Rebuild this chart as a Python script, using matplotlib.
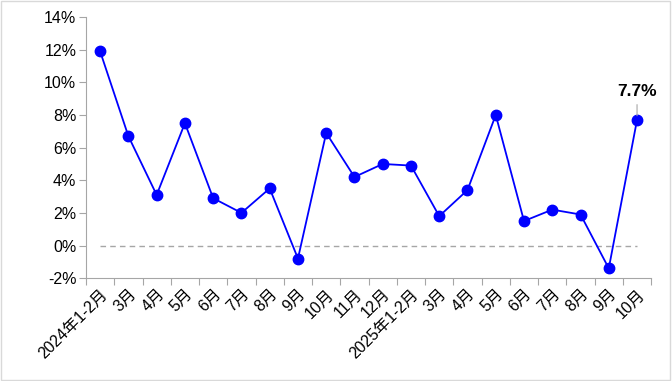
import numpy as np
import matplotlib.pyplot as plt

plt.rcParams['font.family'] = ['Liberation Sans', 'Noto Sans CJK SC', 'DejaVu Sans']

months = ['2024年1-2月', '3月', '4月', '5月', '6月', '7月', '8月', '9月', '10月', '11月', '12月',
          '2025年1-2月', '3月', '4月', '5月', '6月', '7月', '8月', '9月', '10月']
growth = [11.9, 6.7, 3.1, 7.5, 2.9, 2.0, 3.5, -0.8, 6.9, 4.2, 5.0,
          4.9, 1.8, 3.4, 8.0, 1.5, 2.2, 1.9, -1.4, 7.7]
zero_line = [0] * len(months)

fig = plt.figure(figsize=(6.72, 3.81), dpi=100)
ax = fig.add_axes([0.128, 0.270, 0.841, 0.685])

x = np.arange(len(months))
ax.plot(x, zero_line, color='#a6a6a6', lw=1, ls=(0, (4, 3)))
ax.plot(x, growth, color='#0000ff', lw=1.3, marker='o', markersize=7.5)

ax.set_xlim(-0.5, len(months) - 0.5)
ax.set_ylim(-2, 14)
ax.set_yticks(np.arange(-2, 15, 2))
ax.set_yticklabels([f'{v}%' for v in range(-2, 15, 2)], fontsize=11.5)
ax.set_xticks(np.arange(-0.5, len(months), 1), minor=False)
ax.set_xticklabels([])
ax.set_xticks(x, minor=True)
ax.set_xticklabels(months, minor=True, rotation=45, ha='right',
                   rotation_mode='anchor', fontsize=11.5)
ax.tick_params(axis='x', which='minor', length=0, pad=6)
ax.tick_params(axis='x', which='major', length=5, color='#a6a6a6')
ax.tick_params(axis='y', length=5, color='#a6a6a6', pad=2)

for s in ['top', 'right']:
    ax.spines[s].set_visible(False)
for s in ['left', 'bottom']:
    ax.spines[s].set_color('#a6a6a6')

# label on last point
last = len(months) - 1
ax.annotate(f'{growth[last]}%', xy=(last, growth[last]), xytext=(0, 15),
            textcoords='offset points', ha='center', va='bottom',
            fontsize=12.5, fontweight='bold',
            arrowprops=dict(arrowstyle='-', color='#a6a6a6', lw=0.8,
                            shrinkA=2, shrinkB=3))

fig.patches.append(plt.Rectangle((0.002, 0.003), 0.995, 0.994, transform=fig.transFigure,
                                 fill=False, edgecolor='#d9d9d9', lw=1))

fig.savefig('out.png', dpi=100)
